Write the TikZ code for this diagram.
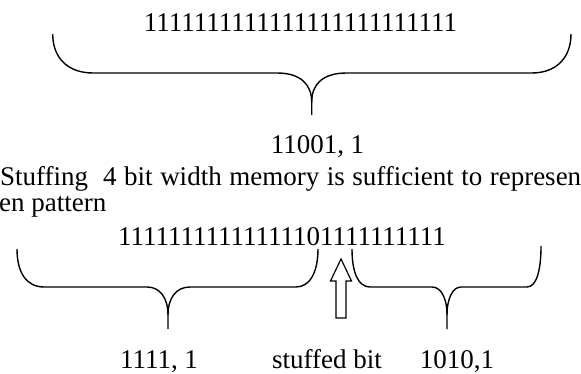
\documentclass[tikz,border=0pt]{standalone}
\usepackage{fontspec}
\setmainfont{Liberation Serif}
\usepackage{tikz}

\tikzset{
  bits/.style={anchor=base, inner sep=0pt},
  brace line/.style={line width=1.4pt, line join=round},
}

\begin{document}
\begin{tikzpicture}[x=1pt,y=-1pt,font=\fontsize{27}{31}\selectfont]
\useasboundingbox (0,0) rectangle (581,374);

% run of ones before stuffing
\node[bits] (orig) at (300.5,32) {1111111111111111111111111};
\draw[brace line] (52.7,34) .. controls (52.7,58) and (68,73) .. (93,73) -- (277,73)
  .. controls (300,73) and (311.7,84) .. (311.7,102) -- (311.7,115);
\draw[brace line] (311.7,102) .. controls (311.7,84) and (323,73) .. (346.7,73) -- (531.7,73)
  .. controls (556,73) and (571,58) .. (571,34);
\node[bits] (origcount) at (317.5,154) {11001, 1};

% note text
\node[bits, anchor=base west] (note) at (0,186)
  {\makebox[581pt][s]{Stuffing\ \ 4 bit width memory is sufficient to represen}};
\node[bits, anchor=base west] (notetail) at (-1,212) {en pattern};

% run after stuffing
\node[bits] (stuffed) at (282,246) {11111111111111101111111111};
\draw[brace line] (17,249) .. controls (17,272) and (26,287) .. (44,287) -- (147,287)
  .. controls (160,287) and (168,298) .. (168,315) -- (168,329);
\draw[brace line] (168,315) .. controls (168,298) and (176,287) .. (190,287) -- (296,287)
  .. controls (310,287) and (318,272) .. (318,249);
\draw[brace line] (352,249) .. controls (352,272) and (358,287) .. (370,287) -- (432,287)
  .. controls (441,287) and (447,298) .. (447,315) -- (447,329);
\draw[brace line] (447,315) .. controls (447,298) and (453,287) .. (461,287) -- (527,287)
  .. controls (536,287) and (541,272) .. (541,246);

% hollow arrow at the stuffed bit
\draw[line width=1.2pt, line join=miter] (336,318) -- (336,281) -- (330.5,281) -- (341,259)
  -- (351.5,281) -- (346,281) -- (346,318) -- cycle;

\node[bits] (leftcount) at (159,368) {1111, 1};
\node[bits] (stufflabel) at (327,368) {stuffed bit};
\node[bits] (rightcount) at (457,368) {1010,1};
\end{tikzpicture}
\end{document}
